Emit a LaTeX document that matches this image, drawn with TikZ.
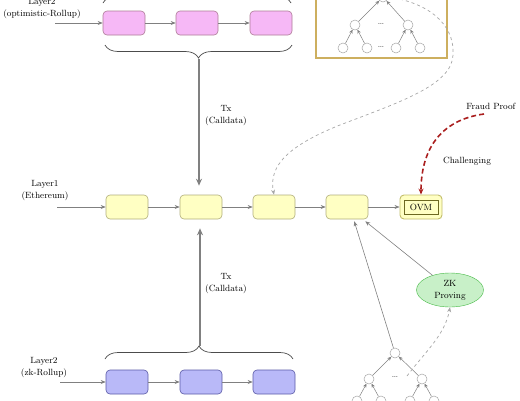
\documentclass[tikz,border=0pt]{standalone}
\usetikzlibrary{arrows.meta,decorations.pathreplacing,shapes.geometric,calc}
\definecolor{goldframe}{RGB}{205,175,95}
\definecolor{fraudred}{RGB}{170,30,30}
\definecolor{pinkfill}{RGB}{246,184,246}
\definecolor{yelfill}{RGB}{255,255,195}
\definecolor{purfill}{RGB}{185,185,248}
\definecolor{grnfill}{RGB}{200,240,200}
\begin{document}
\begin{tikzpicture}[x=1pt,y=-1pt,
  font=\fontsize{9}{12}\selectfont,
  blk/.style={draw=#1, rounded corners=4pt, minimum width=42pt, minimum height=24pt, line width=0.6pt, inner sep=0pt},
  pinkblk/.style={blk=magenta!30!gray, fill=pinkfill},
  yelblk/.style={blk=yellow!30!gray, fill=yelfill},
  purblk/.style={blk=blue!30!gray, fill=purfill},
  ovmout/.style={blk=yellow!45!gray, fill=yelfill, line width=0.9pt},
  ovmin/.style={draw=olive!70!black, fill=yelfill, minimum width=34pt, minimum height=14pt, inner sep=0pt, line width=0.6pt},
  lbl/.style={align=center, inner sep=0pt},
  arr/.style={draw=gray, line width=0.6pt, -{Stealth[length=5pt,width=4pt]}},
  bigarr/.style={draw=gray, line width=1.3pt, -{Stealth[length=7pt,width=6pt]}},
  brc/.style={draw=gray!60!black, line width=0.7pt, decorate, decoration={brace, amplitude=13pt}},
  tnode/.style={circle, draw=gray!70, fill=white, minimum size=10pt, inner sep=0pt, line width=0.5pt},
  tarr/.style={draw=gray, line width=0.5pt, -{Stealth[length=4pt,width=3.5pt]}},
  dotsn/.style={text=gray!80!black, inner sep=0pt, font=\fontsize{10}{12}\selectfont},
  dasharr/.style={draw=gray!70, line width=0.7pt, dashed, -{Stealth[length=5pt,width=4pt]}},
]
\useasboundingbox (0,0) rectangle (520,400);
\clip (0,0) rectangle (520,400);

% ---------- top row (optimistic rollup)
\node[pinkblk] (p1) at (124,23) {};
\node[pinkblk] (p2) at (197,23) {};
\node[pinkblk] (p3) at (271,23) {};
\node[lbl] (l2o) at (42,8.5) {Layer2\\(optimistic-Rollup)};
\coordinate (l2oa) at (55,23);
\draw[arr] (l2oa) -- (p1);
\draw[arr] (p1) -- (p2);
\draw[arr] (p2) -- (p3);
\draw[brc] (103,3) -- (291,3);
\draw[brc] (292,45) -- (105,45);
\coordinate (tb) at (199,59);

% ---------- middle row (layer 1)
\node[yelblk] (y1) at (127,207) {};
\node[yelblk] (y2) at (201,207) {};
\node[yelblk] (y3) at (274,207) {};
\node[yelblk] (y4) at (347,207) {};
\node[ovmout] (ovm) at (421,207) {};
\node[ovmin] (ovmi) at (ovm) {OVM};
\node[lbl] (l1) at (45,191) {Layer1\\(Ethereum)};
\coordinate (l1a) at (57,207);
\draw[arr] (l1a) -- (y1);
\draw[arr] (y1) -- (y2);
\draw[arr] (y2) -- (y3);
\draw[arr] (y3) -- (y4);
\draw[arr] (y4) -- (ovm);

% ---------- bottom row (zk rollup)
\node[purblk] (b1) at (127,382) {};
\node[purblk] (b2) at (201,382) {};
\node[purblk] (b3) at (274,382) {};
\node[lbl] (l2z) at (44,368) {Layer2\\(zk-Rollup)};
\coordinate (l2za) at (60,382);
\draw[arr] (l2za) -- (b1);
\draw[arr] (b1) -- (b2);
\draw[arr] (b2) -- (b3);
\draw[brc] (105,359) -- (293,359);
\coordinate (bb) at (200,346);

% ---------- calldata arrows
\draw[bigarr, shorten >=9pt] (tb) -- (tb |- y2.north);
\draw[bigarr, shorten >=9pt] (bb) -- (bb |- y2.south);
\node[lbl] (tx1) at (226,116) {Tx\\(Calldata)};
\node[lbl] (tx2) at (226,284) {Tx\\(Calldata)};

% ---------- top tree (fraud proof state)
\node[draw=goldframe, line width=1.2pt, minimum width=131pt, minimum height=80pt, inner sep=0pt] (frame) at (381.5,18) {};
\node[tnode] (t0) at (383,-3) {};
\node[tnode] (t1) at (355,25) {};
\node[tnode] (t2) at (408,25) {};
\node[tnode] (t11) at (343,48) {};
\node[tnode] (t12) at (367,48) {};
\node[tnode] (t21) at (396,48) {};
\node[tnode] (t22) at (420,48) {};
\node[dotsn] (td1) at (381,24) {\dots};
\node[dotsn] (td2) at (381,47) {\dots};
\draw[tarr] (t1) -- (t0);
\draw[tarr] (t2) -- (t0);
\draw[tarr] (t11) -- (t1);
\draw[tarr] (t12) -- (t1);
\draw[tarr] (t21) -- (t2);
\draw[tarr] (t22) -- (t2);
\draw[dasharr] (t0.east) .. controls (425,2) and (455,22) .. (453,55)
  .. controls (452,85) and (400,102) .. (340,125)
  .. controls (290,145) and (268,165) .. (y3.north);

% ---------- fraud proof
\node[lbl] (fp) at (491,106) {Fraud Proof};
\node[lbl] (ch) at (467,161) {Challenging};
\coordinate (fps) at (484,114);
\draw[draw=fraudred, line width=1.6pt, dash pattern=on 5pt off 3pt, -{Stealth[length=6pt,width=5pt]}]
  (fps) .. controls (440,120) and (421,150) .. (ovm.north);

% ---------- bottom tree (zk proof)
\node[draw=green!45!gray, fill=grnfill, ellipse, minimum width=67pt, minimum height=34pt, inner sep=0pt, align=center] (zk) at (450,290) {ZK\\Proving};
\node[tnode] (s0) at (395,353) {};
\node[tnode] (s1) at (369,379) {};
\node[tnode] (s2) at (422,379) {};
\node[tnode] (s11) at (357,401) {};
\node[tnode] (s12) at (381,401) {};
\node[tnode] (s21) at (410,401) {};
\node[tnode] (s22) at (434,401) {};
\node[dotsn] (sd1) at (395,377) {\dots};
\draw[tarr] (s1) -- (s0);
\draw[tarr] (s2) -- (s0);
\draw[tarr] (s11) -- (s1);
\draw[tarr] (s12) -- (s1);
\draw[tarr] (s21) -- (s2);
\draw[tarr] (s22) -- (s2);
\coordinate (zks) at (407,376);
\draw[dasharr] (zks) .. controls (425,352) and (445,335) .. (zk.south);
\coordinate (y4a) at ($(y4.south west)!0.67!(y4.south east)+(0,2)$);
\coordinate (y4b) at ($(y4.south west)!0.93!(y4.south east)+(0,2)$);
\draw[arr] (s0) -- (y4a);
\draw[arr] (zk.140) -- (y4b);
\end{tikzpicture}
\end{document}
